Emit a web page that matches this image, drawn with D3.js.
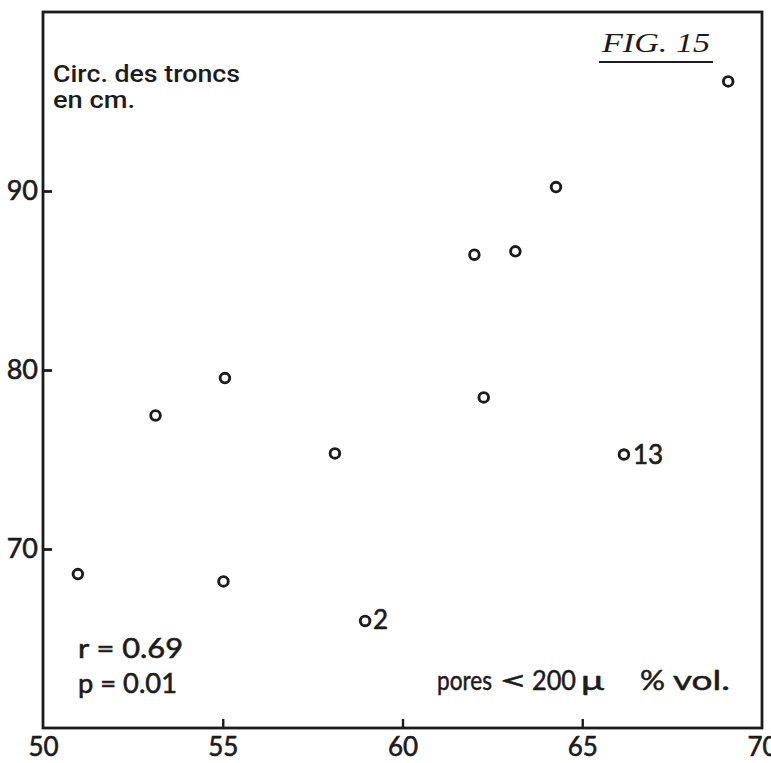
<!DOCTYPE html>
<html><head><meta charset="utf-8">
<script src="https://cdn.jsdelivr.net/npm/d3@7"></script>
<style>
html,body{margin:0;padding:0;background:#fff;}
svg{display:block;}
</style></head>
<body>
<script>
// Data
const poresX = [50.97, 53.13, 55.06, 55.02, 58.12, 58.96, 62.0, 63.14, 62.26, 64.27, 66.16, 69.06];
const circY  = [68.6, 77.46, 79.55, 68.19, 75.34, 65.98, 86.44, 86.63, 78.47, 90.22, 75.28, 96.12];
const pointLabels = ["", "", "", "", "", "2", "", "", "", "", "13", ""];
const xTicks = [50, 55, 60, 65, 70];
const yTicks = [70, 80, 90];
const title = "FIG. 15";
const yTitle = ["Circ. des troncs", "en cm."];
const xTitle = ["pores", "<", "200", "\u03BC", "%", "vol."];
const stats = ["r = 0.69", "p = 0.01"];

const W = 771, H = 763;
const L = 43, R = 762, T = 12, B = 728;
const ink = "#1c1c1c";
const numFont = "Lato, 'Open Sans', sans-serif";
const condFont = "Roboto, 'DejaVu Sans Condensed', sans-serif";

const svg = d3.select("body").append("svg").attr("width", W).attr("height", H);

const x = d3.scaleLinear().domain([50, 70]).range([L, R]);
const y = d3.scaleLinear().domain([60, 100]).range([B, T]);

function heavy(sel, w) {
  sel.attr("stroke", ink).attr("stroke-width", w).attr("paint-order", "stroke");
}

// frame
svg.append("rect").attr("x", L).attr("y", T).attr("width", R - L).attr("height", B - T)
  .attr("fill", "none").attr("stroke", ink).attr("stroke-width", 2.8);

// axes
const gx = svg.append("g").attr("transform", `translate(0,${B})`)
  .call(d3.axisBottom(x).tickValues(xTicks).tickSizeInner(-9).tickSizeOuter(0).tickPadding(10).tickFormat(d3.format("d")));
gx.select(".domain").remove();
gx.selectAll(".tick line").attr("stroke", ink).attr("stroke-width", 2.4)
  .attr("display", d => (d === 50 || d === 70) ? "none" : null);
gx.selectAll(".tick text").attr("fill", ink).style("font-family", numFont).style("font-size", "26px").attr("dy", "0.71em")
  .call(heavy, 0.6);

const gy = svg.append("g").attr("transform", `translate(${L},0)`)
  .call(d3.axisLeft(y).tickValues(yTicks).tickSizeInner(-9).tickSizeOuter(0).tickPadding(5).tickFormat(d3.format("d")));
gy.select(".domain").remove();
gy.selectAll(".tick line").attr("stroke", ink).attr("stroke-width", 2.8);
gy.selectAll(".tick text").attr("fill", ink).style("font-family", numFont).style("font-size", "27px")
  .call(heavy, 0.6);

// points
const pts = poresX.map((v, i) => ({x: v, y: circY[i], label: pointLabels[i]}));
svg.append("g").selectAll("circle").data(pts).join("circle")
  .attr("cx", d => x(d.x)).attr("cy", d => y(d.y)).attr("r", 4.8)
  .attr("fill", "none").attr("stroke", ink).attr("stroke-width", 2.9);
svg.append("g").selectAll("text").data(pts.filter(d => d.label)).join("text")
  .attr("x", d => x(d.x) + (d.label === "13" ? 9 : 8))
  .attr("y", d => y(d.y) + (d.label === "13" ? 10 : 8))
  .attr("fill", ink).style("font-family", numFont).style("font-size", "26px")
  .text(d => d.label).call(heavy, 0.6);

// y title
svg.append("text").attr("x", 53).attr("y", 82).attr("fill", ink)
  .style("font-family", condFont).style("font-size", "24px").style("font-weight", 500)
  .attr("textLength", 187).attr("lengthAdjust", "spacingAndGlyphs").text(yTitle[0]);
svg.append("text").attr("x", 53).attr("y", 108).attr("fill", ink)
  .style("font-family", condFont).style("font-size", "24px").style("font-weight", 500)
  .attr("textLength", 82).attr("lengthAdjust", "spacingAndGlyphs").text(yTitle[1]);

// figure title
svg.append("text").attr("x", 602).attr("y", 52).attr("fill", ink)
  .style("font-family", "'Liberation Serif', 'DejaVu Serif', serif").style("font-style", "italic")
  .style("font-size", "27px").attr("textLength", 108).attr("lengthAdjust", "spacingAndGlyphs").text(title);
svg.append("line").attr("x1", 599).attr("x2", 713).attr("y1", 62).attr("y2", 62)
  .attr("stroke", ink).attr("stroke-width", 2);

// stats
svg.append("text").attr("x", 78).attr("y", 658).attr("fill", ink)
  .style("font-family", numFont).style("font-size", "27px")
  .attr("textLength", 105).attr("lengthAdjust", "spacingAndGlyphs").text(stats[0]).call(heavy, 0.6);
svg.append("text").attr("x", 78).attr("y", 693).attr("fill", ink)
  .style("font-family", numFont).style("font-size", "27px")
  .attr("textLength", 99).attr("lengthAdjust", "spacingAndGlyphs").text(stats[1]).call(heavy, 0.6);

// x title
const xt = [
  {t: xTitle[0], x: 437, w: 55},
  {t: xTitle[1], x: 499, w: 29},
  {t: xTitle[2], x: 532, w: 44},
  {t: xTitle[3], x: 581, w: 23},
  {t: xTitle[4], x: 640, w: 25},
  {t: xTitle[5], x: 673, w: 57}
];
svg.append("g").selectAll("text").data(xt).join("text")
  .attr("x", d => d.x).attr("y", 690).attr("fill", ink)
  .style("font-family", numFont).style("font-size", "26px")
  .attr("textLength", d => d.w).attr("lengthAdjust", "spacingAndGlyphs")
  .text(d => d.t).call(heavy, 0.5);
</script>
</body></html>
